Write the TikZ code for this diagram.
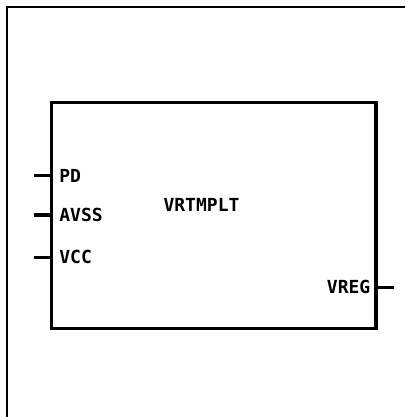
\documentclass[tikz,border=0pt]{standalone}
\usepackage{fontspec}
\newfontfamily\plotfont{DejaVu Sans Mono}
\usetikzlibrary{calc, positioning}
\tikzset{
  symfig/.style={font=\plotfont\bfseries\fontsize{18}{20}\selectfont},
  frameLine/.style={line width=1.8pt},
  blkLine/.style={draw, line width=3.4pt, inner sep=0pt},
  pinLine/.style={line width=3.2pt},
}
\def\FrameX{7.3}
\def\FrameY{7.3}
\def\BoxL{51.7}
\def\BoxR{376}
\def\BoxT{102.7}
\def\BoxB{328.3}
\def\PinLen{17.7}

\begin{document}
\begin{tikzpicture}[symfig, x=1pt, y=-1pt]
  \useasboundingbox (0,0) rectangle (405,417);

  % ----- sheet border (top and left only) -----
  \coordinate (FB) at (\FrameX, 417);
  \coordinate (FC) at (\FrameX, \FrameY);
  \coordinate (FR) at (405, \FrameY);
  \draw[frameLine] (FB) -- (FC) -- (FR);

  % ----- symbol body -----
  \node[blkLine, minimum width=\BoxR-\BoxL, minimum height=\BoxB-\BoxT]
    (blk) at ({(\BoxL+\BoxR)/2}, {(\BoxT+\BoxB)/2}) {};
  \node (title) at (201.5, 205) {VRTMPLT};

  % ----- left pins -----
  \coordinate (pdIn) at (\BoxL, 175.7);
  \coordinate (avssIn) at (\BoxL, 215);
  \coordinate (vccIn) at (\BoxL, 257.3);
  \coordinate (pdExt) at (\BoxL-\PinLen, 175.7);
  \coordinate (avssExt) at (\BoxL-\PinLen, 215);
  \coordinate (vccExt) at (\BoxL-\PinLen, 257.3);
  \draw[pinLine] (pdExt) -- (pdIn);
  \draw[pinLine] (avssExt) -- (avssIn);
  \draw[pinLine] (vccExt) -- (vccIn);
  \node[anchor=west, inner sep=0pt] (pd) at ($(pdIn)+(7.5,0)$) {PD};
  \node[anchor=west, inner sep=0pt] (avss) at ($(avssIn)+(7.5,0)$) {AVSS};
  \node[anchor=west, inner sep=0pt] (vcc) at ($(vccIn)+(7.5,0)$) {VCC};

  % ----- right pin -----
  \coordinate (vregIn) at (\BoxR, 287.3);
  \coordinate (vregExt) at (\BoxR+\PinLen, 287.3);
  \draw[pinLine] (vregIn) -- (vregExt);
  \node[anchor=east, inner sep=0pt] (vreg) at ($(vregIn)+(-5.5,0)$) {VREG};
\end{tikzpicture}
\end{document}
